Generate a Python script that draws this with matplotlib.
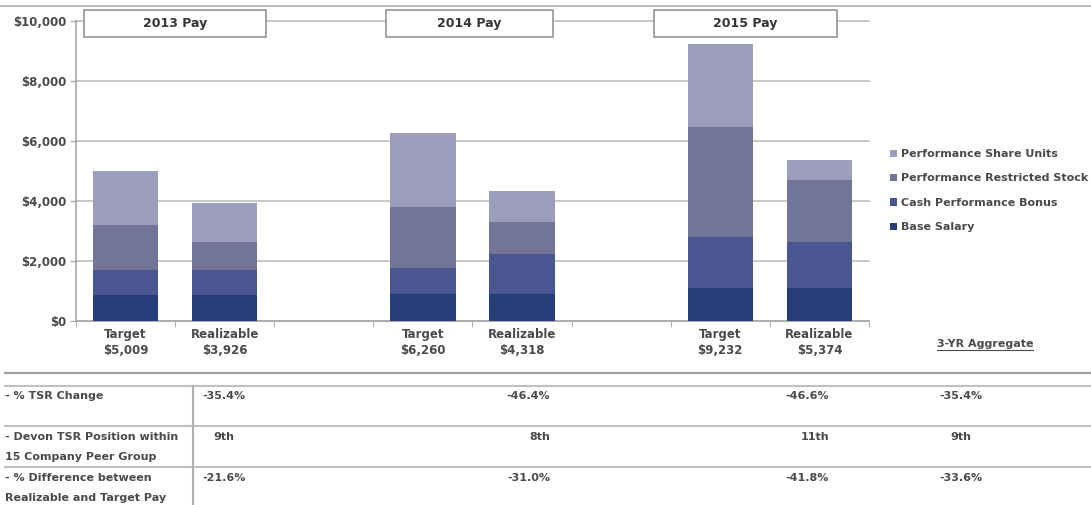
import matplotlib.pyplot as plt
import matplotlib.patches as mpatches
from matplotlib.lines import Line2D
import numpy as np

# ---- data ----
slots = ["Target\n$5,009", "Realizable\n$3,926", "",
         "Target\n$6,260", "Realizable\n$4,318", "",
         "Target\n$9,232", "Realizable\n$5,374"]
bar_pos = [0, 1, 3, 4, 6, 7]

base_salary = [860, 860, 890, 890, 1110, 1110]
cash_bonus = [850, 850, 890, 1330, 1690, 1520]
restricted_stock = [1480, 920, 2020, 1080, 3670, 2080]
share_units = [1819, 1296, 2460, 1018, 2762, 664]

series_names = ["Base Salary", "Cash Performance Bonus",
                "Performance Restricted Stock", "Performance Share Units"]
colors = ["#253e79", "#4a5690", "#727598", "#9c9dbb"]

year_boxes = ["2013 Pay", "2014 Pay", "2015 Pay"]

row_labels = ["- % TSR Change",
              "- Devon TSR Position within\n15 Company Peer Group",
              "- % Difference between\nRealizable and Target Pay"]
tsr_change = ["-35.4%", "-46.4%", "-46.6%", "-35.4%"]
tsr_position = ["9th", "8th", "11th", "9th"]
pay_diff = ["-21.6%", "-31.0%", "-41.8%", "-33.6%"]

plt.rcParams['font.family'] = ['DejaVu Sans']
plt.rcParams['font.weight'] = 'bold'
txt_col = "#4a4a4a"
W, H = 1091, 505

fig = plt.figure(figsize=(10.91, 5.05), dpi=100)
ax = fig.add_axes([76/W, 1 - 321/H, 793/W, 300/H])

# stacked bars
bottom = np.zeros(len(bar_pos))
for vals, name, c in zip([base_salary, cash_bonus, restricted_stock, share_units],
                         series_names, colors):
    ax.bar(bar_pos, vals, width=0.66, bottom=bottom, color=c, label=name, zorder=3)
    bottom += np.array(vals)

ax.set_xlim(-0.5, 7.5)
ax.set_ylim(0, 10000)
ax.set_yticks(np.arange(0, 10001, 2000))
ax.set_yticklabels(["$" + format(v, ",") for v in range(0, 10001, 2000)])
ax.set_xticks(range(len(slots)))
ax.set_xticklabels(slots, fontsize=8.5, color=txt_col, linespacing=1.35)
ax.set_xticks(np.arange(-0.5, 8, 1), minor=True)
ax.tick_params(axis='x', which='major', length=0, pad=5)
ax.tick_params(axis='x', which='minor', length=4, color="#a0a0a0")
ax.tick_params(axis='y', length=4, color="#a0a0a0", labelsize=8.5,
               labelcolor=txt_col, pad=3)
ax.grid(axis='y', color="#c4c4c4", lw=1.3, zorder=0)
for gl in ax.get_ygridlines():
    gl.set_clip_on(False)
for s in ["top", "right"]:
    ax.spines[s].set_visible(False)
for s in ["left", "bottom"]:
    ax.spines[s].set_color("#a8a8a8")
    ax.spines[s].set_linewidth(1.2)

# year header boxes
box_x = [(-0.42, 1.42), (2.63, 4.31), (5.33, 7.18)]
for (x0, x1), lab in zip(box_x, year_boxes):
    r = mpatches.Rectangle((x0, 9470), x1 - x0, 900, facecolor="white",
                           edgecolor="#8c8c8c", lw=1.1, clip_on=False, zorder=5)
    ax.add_patch(r)
    ax.text((x0 + x1) / 2, 9920, lab, ha='center', va='center', fontsize=9,
            color="#353535", zorder=6, clip_on=False)

# legend
h, l = ax.get_legend_handles_labels()
fig.legend(h[::-1], l[::-1], loc='upper left', bbox_to_anchor=(880/W, 1 - 139/H),
           frameon=False, fontsize=8, handlelength=0.6, handleheight=0.6,
           handletextpad=0.4, labelspacing=1.3, labelcolor=txt_col)

# top rule
fig.add_artist(Line2D([0, 1], [1 - 6/H, 1 - 6/H], color="#b0b0b0", lw=1.2))

# 3-YR aggregate header
agg = fig.text(985/W, 1 - 344/H, "3-YR Aggregate", ha='center', va='center',
               fontsize=8, color=txt_col)

# table lines
def hline(y, x0=5, x1=W, col="#c0c0c0", lw=1.5):
    fig.add_artist(Line2D([x0/W, x1/W], [1 - y/H, 1 - y/H], color=col, lw=lw))

hline(373, col="#a0a0a0", lw=1.6)
for y in [386, 426, 467]:
    hline(y)
fig.add_artist(Line2D([193/W, 193/W], [1 - 386/H, 0], color="#b0b0b0", lw=1.5))

row_y = [396, 437, 478]
col_x = [224, 550, 829, 961]
col_ha = ['center', 'right', 'right', 'center']
for ry, lab, vals in zip(row_y, row_labels, [tsr_change, tsr_position, pay_diff]):
    for i, line in enumerate(lab.split("\n")):
        fig.text(5/W, 1 - (ry + i*20)/H, line, ha='left', va='center',
                 fontsize=8, color=txt_col)
    for x, ha, v in zip(col_x, col_ha, vals):
        fig.text(x/W, 1 - ry/H, v, ha=ha, va='center', fontsize=8, color=txt_col)

# underline for aggregate header
fig.canvas.draw()
bb = agg.get_window_extent().transformed(fig.transFigure.inverted())
fig.add_artist(Line2D([bb.x0, bb.x1], [bb.y0 - 1/H, bb.y0 - 1/H], color=txt_col, lw=0.8))

fig.savefig("out.png", dpi=100)
